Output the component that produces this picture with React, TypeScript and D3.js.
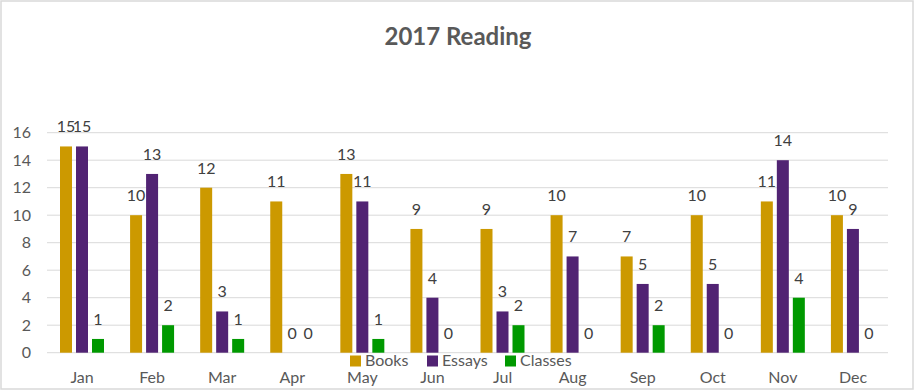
import React from 'react';
import * as d3 from 'd3';

const months = ['Jan', 'Feb', 'Mar', 'Apr', 'May', 'Jun', 'Jul', 'Aug', 'Sep', 'Oct', 'Nov', 'Dec'];
const seriesNames = ['Books', 'Essays', 'Classes'];
const books = [15, 10, 12, 11, 13, 9, 9, 10, 7, 10, 11, 10];
const essays = [15, 13, 3, 0, 11, 4, 3, 7, 5, 5, 14, 9];
const classes = [1, 2, 1, 0, 1, 0, 2, 0, 2, 0, 4, 0];
const yTicks = [0, 2, 4, 6, 8, 10, 12, 14, 16];
const colors = ['#CC9900', '#512373', '#009900'];

const W = 916;
const H = 391;
const font = 'Lato, "Open Sans", sans-serif';

const App: React.FC = () => {
  const values = [books, essays, classes];

  // plot area
  const left = 47;
  const right = 888;
  const top = 132.7;
  const bottom = 352.7;

  const x = d3.scaleBand<string>().domain(months).range([left, right]).padding(0);
  const inner = d3.scaleBand<string>()
    .domain(seriesNames)
    .range([13, 57])
    .paddingInner(0.25);
  const y = d3.scaleLinear().domain([0, 16]).range([bottom, top]);

  return (
    <svg width={W} height={H} style={{ position: 'absolute', left: 0, top: 0 }}>
      <rect x={0} y={0} width={W} height={H} fill="#fff" />
      <rect x={1} y={1} width={912} height={388} fill="none" stroke="#D9D9D9" strokeWidth={1.5} />

      <text x={458} y={45} textAnchor="middle" fontFamily={font} fontWeight="bold"
        fontSize={24} fill="#595959">2017 Reading</text>

      {/* gridlines */}
      {yTicks.map(t => (
        <line key={t} x1={left} x2={right} y1={y(t)} y2={y(t)} stroke="#D9D9D9" strokeWidth={1} />
      ))}
      {yTicks.map(t => (
        <text key={'l' + t} x={31} y={y(t) + 5.5} textAnchor="end" fontFamily={font}
          fontSize={16} fill="#595959">{t}</text>
      ))}

      {/* bars */}
      {seriesNames.map((s, si) => (
        <g key={s}>
          {months.map((m, i) => {
            const v = values[si][i];
            const bx = (x(m) ?? 0) + (inner(s) ?? 0);
            return (
              <g key={m}>
                {v > 0 && (
                  <rect x={bx} y={y(v)} width={inner.bandwidth()} height={y(0) - y(v)} fill={colors[si]} />
                )}
                <text x={bx + inner.bandwidth() / 2} y={y(v) - 14} textAnchor="middle"
                  fontFamily={font} fontSize={16} fill="#404040">{v}</text>
              </g>
            );
          })}
        </g>
      ))}

      {/* month labels */}
      {months.map(m => (
        <text key={m} x={(x(m) ?? 0) + x.bandwidth() / 2} y={383} textAnchor="middle"
          fontFamily={font} fontSize={16} fill="#595959">{m}</text>
      ))}

      {/* legend */}
      {seriesNames.map((s, si) => {
        const lx = [350, 427, 505][si];
        return (
          <g key={s}>
            <rect x={lx} y={355.5} width={11} height={11} fill={colors[si]} />
            <text x={lx + 15} y={366} fontFamily={font} fontSize={16} fill="#595959">{s}</text>
          </g>
        );
      })}
    </svg>
  );
};

export default App;
